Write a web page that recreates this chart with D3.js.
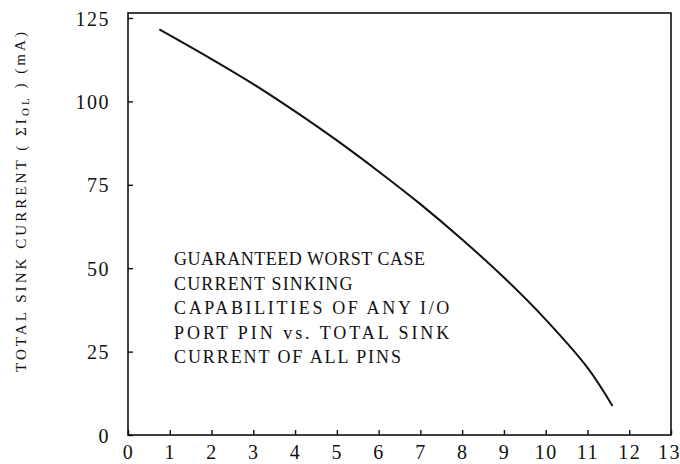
<!DOCTYPE html>
<html>
<head>
<meta charset="utf-8">
<script src="https://cdn.jsdelivr.net/npm/d3@7"></script>
<style>
  body { margin: 0; background: #fff; }
  svg { display: block; }
  text { font-family: "Liberation Serif", "DejaVu Serif", serif; fill: #111; }
</style>
</head>
<body>
<div class="canvas"></div>
<script>
// data
const sumCurrent = [0.75, 2, 3, 4, 5, 6, 7, 8, 9, 10, 11, 11.6];
const totalSink = [121.6, 112.7, 105.2, 97.0, 88.3, 79.0, 69.2, 58.6, 47.2, 34.6, 20.2, 8.7];
const xTickValues = [0, 1, 2, 3, 4, 5, 6, 7, 8, 9, 10, 11, 12, 13];
const yTickValues = [0, 25, 50, 75, 100, 125];
const noteLines = [
  "GUARANTEED WORST CASE",
  "CURRENT SINKING",
  "CAPABILITIES OF ANY I/O",
  "PORT PIN vs. TOTAL SINK",
  "CURRENT OF ALL PINS"
];

const w = 680;
const h = 464;

const svg = d3.select(".canvas")
  .append("svg")
  .attr("width", w)
  .attr("height", h);

// plot box
const boxLeft = 128, boxRight = 671, boxTop = 13, boxBottom = 435;

const x = d3.scaleLinear().domain([0, 13]).range([boxLeft, boxRight]);
const y = d3.scaleLinear().domain([0, 125]).range([boxBottom, 18]);

// frame
svg.append("rect")
  .attr("x", boxLeft)
  .attr("y", boxTop)
  .attr("width", boxRight - boxLeft)
  .attr("height", boxBottom - boxTop)
  .attr("fill", "none")
  .attr("stroke", "#111")
  .attr("stroke-width", 1.6);

// axes, ticks pointing inwards
const xAxis = d3.axisBottom(x)
  .tickValues(xTickValues)
  .tickSizeInner(-5)
  .tickSizeOuter(0)
  .tickPadding(10)
  .tickFormat(d => d);

const yAxis = d3.axisLeft(y)
  .tickValues(yTickValues)
  .tickSizeInner(-5)
  .tickSizeOuter(0)
  .tickPadding(18)
  .tickFormat(d => d);

const xAxisGroup = svg.append("g")
  .attr("transform", `translate(0, ${boxBottom})`)
  .call(xAxis);

const yAxisGroup = svg.append("g")
  .attr("transform", `translate(${boxLeft}, 0)`)
  .call(yAxis);

[xAxisGroup, yAxisGroup].forEach(g => {
  g.select(".domain").remove();
  g.selectAll("line").attr("stroke", "#111").attr("stroke-width", 1.4);
  g.selectAll("text")
    .style("font-family", '"Liberation Serif", serif')
    .style("font-size", "20px")
    .style("letter-spacing", "1.5px")
    .attr("fill", "#111");
});
yAxisGroup.selectAll("text").attr("dy", "0.35em");
// keep the last label inside the window
xAxisGroup.selectAll(".tick text").filter(d => d === 13).attr("dx", "-2");

// the curve
const points = sumCurrent.map((v, i) => [v, totalSink[i]]);
const line = d3.line()
  .x(d => x(d[0]))
  .y(d => y(d[1]))
  .curve(d3.curveCatmullRom);

svg.append("path")
  .datum(points)
  .attr("d", line)
  .attr("fill", "none")
  .attr("stroke", "#111")
  .attr("stroke-width", 2);

// note inside the plot, typewriter pitch
const pitch = 12.1;
svg.append("g")
  .selectAll("text")
  .data(noteLines)
  .enter()
  .append("text")
  .attr("x", 174)
  .attr("y", (d, i) => 265 + i * 24.5)
  .attr("textLength", d => d.length * pitch - 3)
  .attr("lengthAdjust", "spacing")
  .style("font-size", "18px")
  .text(d => d);

// y axis title
const yTitle = svg.append("text")
  .attr("transform", `translate(26, 202) rotate(-90)`)
  .attr("text-anchor", "middle")
  .attr("textLength", 340)
  .attr("lengthAdjust", "spacing")
  .style("font-size", "15px");
yTitle.append("tspan").text("TOTAL SINK CURRENT ( \u03A3I");
yTitle.append("tspan").attr("dy", "0.3em").style("font-size", "11px").text("OL");
yTitle.append("tspan").attr("dy", "-0.3em").text(" ) (mA)");
</script>
</body>
</html>
